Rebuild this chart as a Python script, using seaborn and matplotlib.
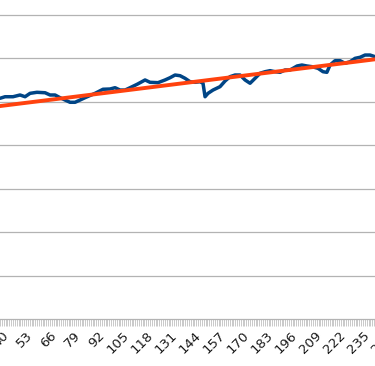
import numpy as np
import pandas as pd
import matplotlib
matplotlib.use("Agg")
import matplotlib.pyplot as plt
from matplotlib.ticker import MultipleLocator, FixedLocator
import seaborn as sns

# Series values
x_vals = [39.0, 41.7, 46.0, 49.8, 52.5, 55.2, 58.9, 63.3, 66.0, 68.7, 71.4, 74.1,
          76.8, 79.5, 82.2, 84.9, 90.3, 94.6, 98.4, 101.1, 103.8, 106.5, 109.2,
          113.0, 115.6, 117.3, 120.0, 124.3, 128.1, 130.8, 133.5, 136.2, 138.9,
          141.6, 144.3, 147.0, 148.6, 149.7, 151.3, 154.0, 157.8, 160.5, 163.2,
          165.9, 168.6, 171.3, 174.0, 176.7, 179.4, 182.1, 184.8, 187.5, 190.2,
          192.9, 195.6, 199.4, 202.0, 204.7, 207.4, 210.7, 213.4, 215.5, 217.2,
          219.9, 222.6, 225.3, 228.0, 230.7, 233.4, 236.1, 238.8, 241.5]
y_vals = [2541, 2559, 2559, 2579, 2559, 2598, 2610, 2605, 2579, 2579, 2548, 2521,
          2495, 2495, 2521, 2548, 2598, 2645, 2648, 2663, 2636, 2636, 2663,
          2702, 2732, 2752, 2725, 2721, 2752, 2778, 2809, 2801, 2771,
          2732, 2725, 2732, 2714, 2559, 2598, 2636, 2675, 2740, 2790,
          2809, 2809, 2752, 2714, 2771, 2829, 2847, 2859, 2847, 2840,
          2867, 2867, 2913, 2924, 2913, 2905, 2886, 2847, 2840, 2924,
          2974, 2974, 2944, 2962, 3001, 3013, 3039, 3039, 3020]

# Linear trend line endpoints
trend_x = [38, 243]
trend_y = [2449, 2994]

tick_labels_start = 1
tick_step = 13
grid_values = [500, 1000, 1500, 2000, 2500, 3000, 3500]

sns.set_style("white")
plt.rcParams['font.family'] = ['DejaVu Sans']

fig = plt.figure(figsize=(3.75, 3.66), dpi=100)
ax = fig.add_axes([-0.0443, 0.1284, 1.0864, 0.8781])

data = pd.DataFrame({"x": x_vals, "y": y_vals})
trend = pd.DataFrame({"x": trend_x, "y": trend_y})

sns.lineplot(data=data, x="x", y="y", ax=ax, color="#004586", linewidth=2.5,
             zorder=3, solid_joinstyle="round")
sns.lineplot(data=trend, x="x", y="y", ax=ax, color="#ff420e", linewidth=2.8,
             zorder=4)

ax.set_xlim(30, 250)
ax.set_ylim(0, 3700)

for g in grid_values:
    ax.axhline(g, color="#b3b3b3", linewidth=0.9, zorder=1)

major = list(range(tick_labels_start, 260, tick_step))
ax.xaxis.set_major_locator(FixedLocator(major))
ax.xaxis.set_minor_locator(MultipleLocator(1))
ax.set_xticklabels([str(m) for m in major], rotation=45, ha="right",
                   rotation_mode="anchor", fontsize=9.5, color="#1a1a1a")
ax.tick_params(axis="x", which="both", length=5, width=0.6, color="#c0c0c0",
               direction="out", pad=2)
ax.tick_params(axis="x", which="both", bottom=True)
ax.set_yticks([])
ax.set_xlabel("")
ax.set_ylabel("")

for s in ["top", "left", "right"]:
    ax.spines[s].set_visible(False)
ax.spines["bottom"].set_color("#b3b3b3")
ax.spines["bottom"].set_linewidth(0.9)

fig.savefig("out.png", dpi=100)
